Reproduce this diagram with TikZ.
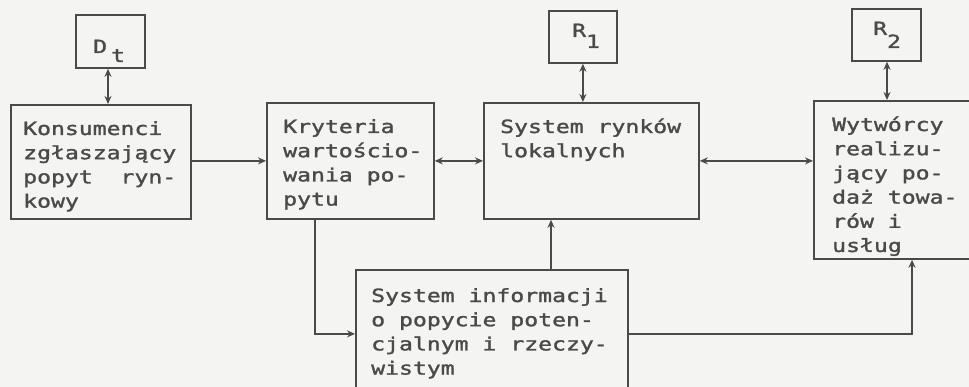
\documentclass[tikz,border=0pt]{standalone}
\usepackage{fontspec}
\newfontfamily\monofam[FakeStretch=1.27,FakeBold=1.6]{DejaVu Sans Mono}
\usetikzlibrary{arrows.meta}
\definecolor{bgcol}{HTML}{F4F4F2}
\definecolor{inkcol}{HTML}{4A4A4A}
\newcommand\bxt[1]{\parbox[t]{12cm}{\raggedright #1}}
\begin{document}
\begin{tikzpicture}[x=1pt,y=-1pt,
  boxnode/.style={draw=inkcol, line width=1.8pt, rectangle, inner sep=0pt, anchor=north west},
  txt/.style={inner sep=0pt, anchor=base west, text=inkcol, font=\monofam\fontsize{18.2pt}{24.2pt}\selectfont},
  conn/.style={draw=inkcol, line width=1.7pt},
  arr/.style={conn, -{Stealth[length=8pt,width=7pt]}},
  dbl/.style={conn, {Stealth[length=8pt,width=7pt]}-{Stealth[length=8pt,width=7pt]}}]
\useasboundingbox (0,0) rectangle (969,387);
\fill[bgcol] (0,0) rectangle (969,387);
\clip (0,0) rectangle (969,387);
% boxes
\node[boxnode, minimum width=69pt, minimum height=53pt] (D) at (75,14) {};
\node[boxnode, minimum width=68pt, minimum height=52pt] (R1) at (548,10) {};
\node[boxnode, minimum width=69pt, minimum height=52pt] (R2) at (851,8) {};
\node[boxnode, minimum width=180pt, minimum height=114pt] (K) at (10,104) {};
\node[boxnode, minimum width=167pt, minimum height=116pt] (Kr) at (266,102) {};
\node[boxnode, minimum width=215pt, minimum height=116pt] (S) at (483,102) {};
\node[boxnode, minimum width=180pt, minimum height=158pt] (W) at (813,100) {};
\node[boxnode, minimum width=272pt, minimum height=128pt] (I) at (355,269) {};
% texts
\node[txt] (tD) at (93,53) {D\hspace{4pt}\raisebox{-9pt}{t}};
\node[txt] (tR1) at (572,37) {R\raisebox{-11pt}{1}};
\node[txt] (tR2) at (873,35) {R\raisebox{-13pt}{2}};
\node[txt] (tK) at (23,135) {\bxt{Konsumenci\\zgłaszający\\popyt\hspace{27.8pt}ryn-\\kowy}};
\node[txt] (tKr) at (283,133) {\bxt{Kryteria\\wartościo-\\wania po-\\pytu}};
\node[txt] (tS) at (500,133) {\bxt{System rynków\\lokalnych}};
\node[txt] (tW) at (832,131) {\bxt{Wytwórcy\\realizu-\\jący po-\\daż towa-\\rów i\\usług}};
\node[txt] (tI) at (371,302) {\bxt{System informacji\\o popycie poten-\\cjalnym i rzeczy-\\wistym}};
% helper coordinates
\coordinate (c0) at (108,0);
\coordinate (c4) at (887,0);
\coordinate (c1) at (315,0);
\coordinate (c2) at (551,0);
\coordinate (c3) at (912,0);
% connectors
\draw[dbl] (c0 |- D.south) -- (c0 |- K.north);
\draw[dbl] (R1.south) -- (R1.south |- S.north);
\draw[dbl] (c4 |- R2.south) -- (c4 |- W.north);
\draw[arr] (K.east |- Kr.west) -- (Kr.west);
\draw[dbl] (Kr.east) -- (S.west);
\draw[dbl] (S.east) -- (S.east -| W.west);
\draw[arr] (c1 |- Kr.south) |- (I.west);
\draw[arr] (c2 |- I.north) -- (c2 |- S.south);
\draw[arr] (I.east) -| (c3 |- W.south);
\end{tikzpicture}
\end{document}
